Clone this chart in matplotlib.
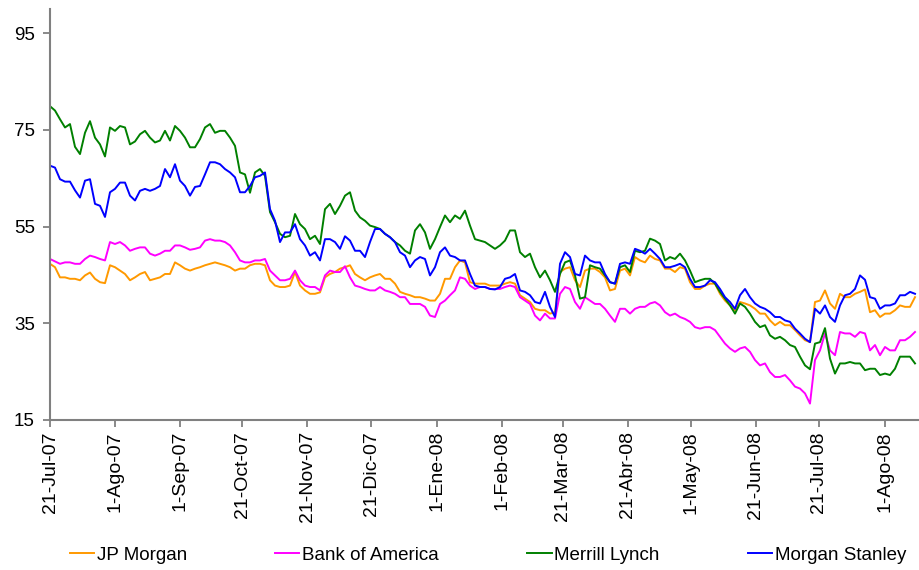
import matplotlib
matplotlib.use("Agg")
import matplotlib.pyplot as plt

plt.rcParams['font.family'] = ['Liberation Sans', 'DejaVu Sans']

series_names = ["JP Morgan", "Bank of America", "Merrill Lynch", "Morgan Stanley"]

jp_morgan = [
    47.3, 46.6, 44.5, 44.5, 44.2, 44.2, 43.9, 44.9, 45.5, 44.2,
    43.5, 43.3, 47.0, 46.6, 45.9, 45.2, 43.9, 44.5, 45.2, 45.6,
    43.9, 44.2, 44.5, 45.2, 45.2, 47.6, 47.0, 46.3, 45.9, 46.3,
    46.6, 47.0, 47.3, 47.6, 47.3, 47.0, 46.6, 45.9, 46.3, 46.3,
    47.0, 47.3, 47.3, 47.0, 43.9, 42.8, 42.5, 42.5, 42.8, 45.6,
    42.8, 41.8, 41.1, 41.1, 41.4, 44.5, 45.2, 45.6, 46.3, 46.6,
    47.0, 45.2, 44.5, 43.9, 44.5, 44.9, 45.2, 44.2, 44.2, 43.2,
    41.5, 41.1, 40.8, 40.4, 40.4, 40.1, 39.7, 39.7, 41.1, 44.2,
    44.2, 46.6, 48.0, 47.6, 43.5, 43.2, 43.2, 43.2, 42.8, 42.8,
    42.8, 43.2, 43.5, 43.2, 40.8, 40.1, 39.4, 38.0, 37.7, 37.7,
    37.0, 37.3, 45.6, 46.3, 46.6, 43.9, 42.5, 45.9, 46.3, 46.3,
    45.6, 44.5, 41.8, 42.1, 45.9, 46.3, 44.9, 48.7, 48.0, 47.6,
    49.0, 48.3, 48.0, 46.3, 46.3, 45.6, 46.6, 46.3, 43.5, 42.1,
    42.1, 42.8, 43.2, 43.2, 41.1, 39.7, 38.7, 37.7, 39.4, 39.1,
    38.7, 38.0, 37.0, 37.0, 35.6, 34.6, 35.3, 34.6, 34.6, 33.6,
    32.5, 31.5, 31.1, 39.4, 39.7, 41.8, 39.1, 38.0, 41.1, 40.4,
    40.4, 41.1, 41.5, 42.0, 37.3, 37.7, 36.3, 37.0, 37.0, 37.7,
    38.7, 38.4, 38.4, 40.4,
]

bank_of_america = [
    48.3, 47.8, 47.3, 47.6, 47.6, 47.3, 47.3, 48.3, 49.0, 48.7,
    48.3, 48.0, 51.8, 51.4, 51.8, 51.1, 50.0, 50.4, 50.7, 50.7,
    49.4, 49.0, 49.4, 50.0, 50.0, 51.1, 51.1, 50.7, 50.2, 50.4,
    50.7, 52.1, 52.4, 52.1, 52.1, 51.8, 51.1, 49.7, 48.0, 47.6,
    47.6, 48.0, 48.0, 48.3, 45.9, 44.9, 43.9, 43.9, 44.2, 45.9,
    43.9, 42.8, 42.5, 42.5, 41.8, 44.9, 45.9, 45.6, 45.6, 46.8,
    44.5, 42.8, 42.5, 42.1, 41.8, 41.8, 42.5, 41.8, 41.5, 41.1,
    40.4, 40.4, 39.0, 39.0, 39.0, 38.4, 36.6, 36.3, 39.0, 39.7,
    40.8, 41.8, 44.5, 44.2, 42.8, 42.1, 42.5, 42.5, 42.1, 42.1,
    42.1, 42.5, 42.8, 42.5, 40.4, 39.7, 39.0, 36.6, 35.6, 37.0,
    36.0, 36.0, 41.1, 42.5, 42.1, 39.4, 38.0, 40.4, 39.7, 39.0,
    39.0, 38.0, 36.6, 35.3, 38.0, 38.0, 37.0, 38.0, 38.4, 38.4,
    39.1, 39.4, 38.7, 37.3, 36.6, 37.0, 36.3, 35.9, 35.3, 34.2,
    33.9, 34.2, 34.2, 33.6, 32.2, 30.8, 29.8, 29.1, 29.8, 30.1,
    29.1, 27.4, 26.3, 26.7, 24.9, 23.9, 23.9, 24.3, 23.2, 21.9,
    21.5, 20.5, 18.4, 27.4, 29.4, 32.9, 29.4, 28.4, 33.2, 32.9,
    32.9, 32.2, 33.2, 32.9, 29.4, 30.5, 28.4, 30.1, 29.4, 29.4,
    31.5, 31.5, 32.2, 33.2,
]

merrill_lynch = [
    79.9, 79.0, 77.2, 75.5, 76.2, 71.5, 70.0, 74.4, 76.8, 73.4,
    72.0, 69.5, 75.5, 74.8, 75.8, 75.5, 72.0, 72.6, 74.1, 74.8,
    73.4, 72.4, 72.8, 74.8, 72.8, 75.8, 74.8, 73.4, 71.4, 71.4,
    73.1, 75.5, 76.2, 74.4, 74.8, 74.8, 73.4, 71.7, 66.2, 65.8,
    62.0, 66.2, 66.9, 65.5, 58.0, 55.9, 53.5, 52.8, 53.1, 57.6,
    55.5, 54.5, 52.4, 53.1, 51.4, 58.6, 59.7, 57.6, 59.3, 61.4,
    62.1, 58.3, 56.9, 56.2, 55.2, 54.9, 54.5, 53.5, 52.8, 51.8,
    51.1, 50.0, 49.4, 54.2, 55.5, 53.8, 50.4, 52.4, 54.9, 57.3,
    55.9, 57.3, 56.6, 58.3, 55.2, 52.4, 52.1, 51.8, 51.1, 50.4,
    51.1, 52.1, 54.2, 54.2, 49.7, 48.7, 49.4, 46.6, 44.5, 45.9,
    43.9, 41.5, 45.2, 47.6, 48.0, 44.9, 40.1, 40.4, 47.0, 46.6,
    46.3, 44.9, 43.5, 43.2, 46.6, 47.0, 45.6, 50.0, 49.7, 50.0,
    52.5, 52.1, 51.4, 48.0, 48.7, 48.3, 49.4, 48.0, 45.9, 43.5,
    43.9, 44.2, 44.2, 43.2, 41.5, 40.1, 38.7, 37.0, 39.1, 38.4,
    37.0, 35.3, 34.2, 34.6, 32.5, 31.8, 32.2, 31.5, 30.5, 30.1,
    28.1, 26.3, 25.5, 30.8, 31.1, 34.0, 27.7, 24.6, 26.7, 26.7,
    27.0, 26.7, 26.7, 25.3, 25.6, 25.6, 24.3, 24.6, 24.3, 25.6,
    28.1, 28.1, 28.1, 26.7,
]

morgan_stanley = [
    67.6, 67.2, 64.8, 64.3, 64.3, 62.5, 61.0, 64.5, 64.8, 59.7,
    59.3, 57.0, 62.1, 62.8, 64.1, 64.1, 61.4, 60.4, 62.4, 62.8,
    62.4, 62.8, 63.4, 66.9, 65.2, 67.9, 64.5, 63.4, 61.4, 63.2,
    63.4, 65.8, 68.3, 68.3, 67.9, 66.9, 66.2, 65.2, 62.1, 62.1,
    63.4, 65.2, 65.5, 66.2, 58.6, 56.2, 51.8, 53.8, 53.8, 55.5,
    52.4, 51.1, 49.0, 49.7, 48.0, 52.4, 52.4, 51.8, 50.4, 53.0,
    52.1, 50.0, 50.0, 48.7, 51.8, 54.5, 54.5, 53.5, 52.8, 51.8,
    49.7, 49.0, 46.6, 48.0, 48.7, 48.3, 44.9, 46.6, 49.7, 50.7,
    49.0, 48.7, 48.0, 48.0, 45.2, 42.8, 42.5, 42.5, 42.1, 42.0,
    42.5, 44.2, 44.5, 45.2, 41.8, 41.5, 40.8, 39.4, 39.1, 41.5,
    38.4, 36.3, 47.3, 49.7, 48.7, 45.2, 44.9, 49.0, 48.0, 47.6,
    47.6, 45.2, 43.5, 43.2, 47.3, 47.6, 47.3, 50.4, 50.0, 49.4,
    50.4, 49.4, 48.3, 46.6, 46.6, 46.9, 47.3, 46.6, 44.2, 42.5,
    42.5, 42.8, 43.9, 43.5, 42.1, 40.4, 39.4, 38.0, 40.8, 42.1,
    40.4, 39.1, 38.4, 38.0, 37.3, 36.3, 36.3, 35.6, 35.3, 33.9,
    32.9, 31.8, 31.1, 38.0, 37.0, 38.7, 36.3, 35.3, 38.7, 40.8,
    41.1, 42.1, 44.9, 44.0, 40.4, 40.1, 38.0, 38.7, 38.7, 39.1,
    40.8, 40.8, 41.5, 41.1,
]

tick_labels = ["21-Jul-07", "1-Ago-07", "1-Sep-07", "21-Oct-07", "21-Nov-07",
               "21-Dic-07", "1-Ene-08", "1-Feb-08", "21-Mar-08", "21-Abr-08",
               "1-May-08", "21-Jun-08", "21-Jul-08", "1-Ago-08"]
tick_index = [0, 13, 26, 38.5, 51.5, 64.3, 77.5, 90.5, 102.6, 115.6,
              128.3, 141.2, 153.8, 167]

colors = ["#FF9900", "#FF00FF", "#008000", "#0000FF"]
all_series = [jp_morgan, bank_of_america, merrill_lynch, morgan_stanley]

fig = plt.figure(figsize=(9.19, 5.70), dpi=100)
ax = fig.add_axes([50/919, 150/570, 869/919, 411/570])

x = list(range(len(jp_morgan)))
for name, vals, c in zip(series_names, all_series, colors):
    ax.plot(x, vals, color=c, lw=1.4, label=name)

ax.set_xlim(0, 173.8)
ax.set_ylim(15, 100)
ax.set_yticks([15, 35, 55, 75, 95])
ax.set_xticks(tick_index)
ax.set_xticklabels(tick_labels, rotation=90, fontsize=14)
ax.tick_params(axis='y', labelsize=13.5, length=5, width=1.3, color='#808080', pad=6)
ax.tick_params(axis='x', length=5, width=1.3, color='#808080', pad=3)

for s in ['top', 'right']:
    ax.spines[s].set_visible(False)
for s in ['left', 'bottom']:
    ax.spines[s].set_color('#808080')
    ax.spines[s].set_linewidth(1.5)

fig.legend(loc='center', bbox_to_anchor=(488/919, 15/570), ncol=4, frameon=False,
           fontsize=13.5, handlelength=1.3, handletextpad=0.15, columnspacing=4.7)

fig.savefig("out.png", dpi=100, facecolor='white')
